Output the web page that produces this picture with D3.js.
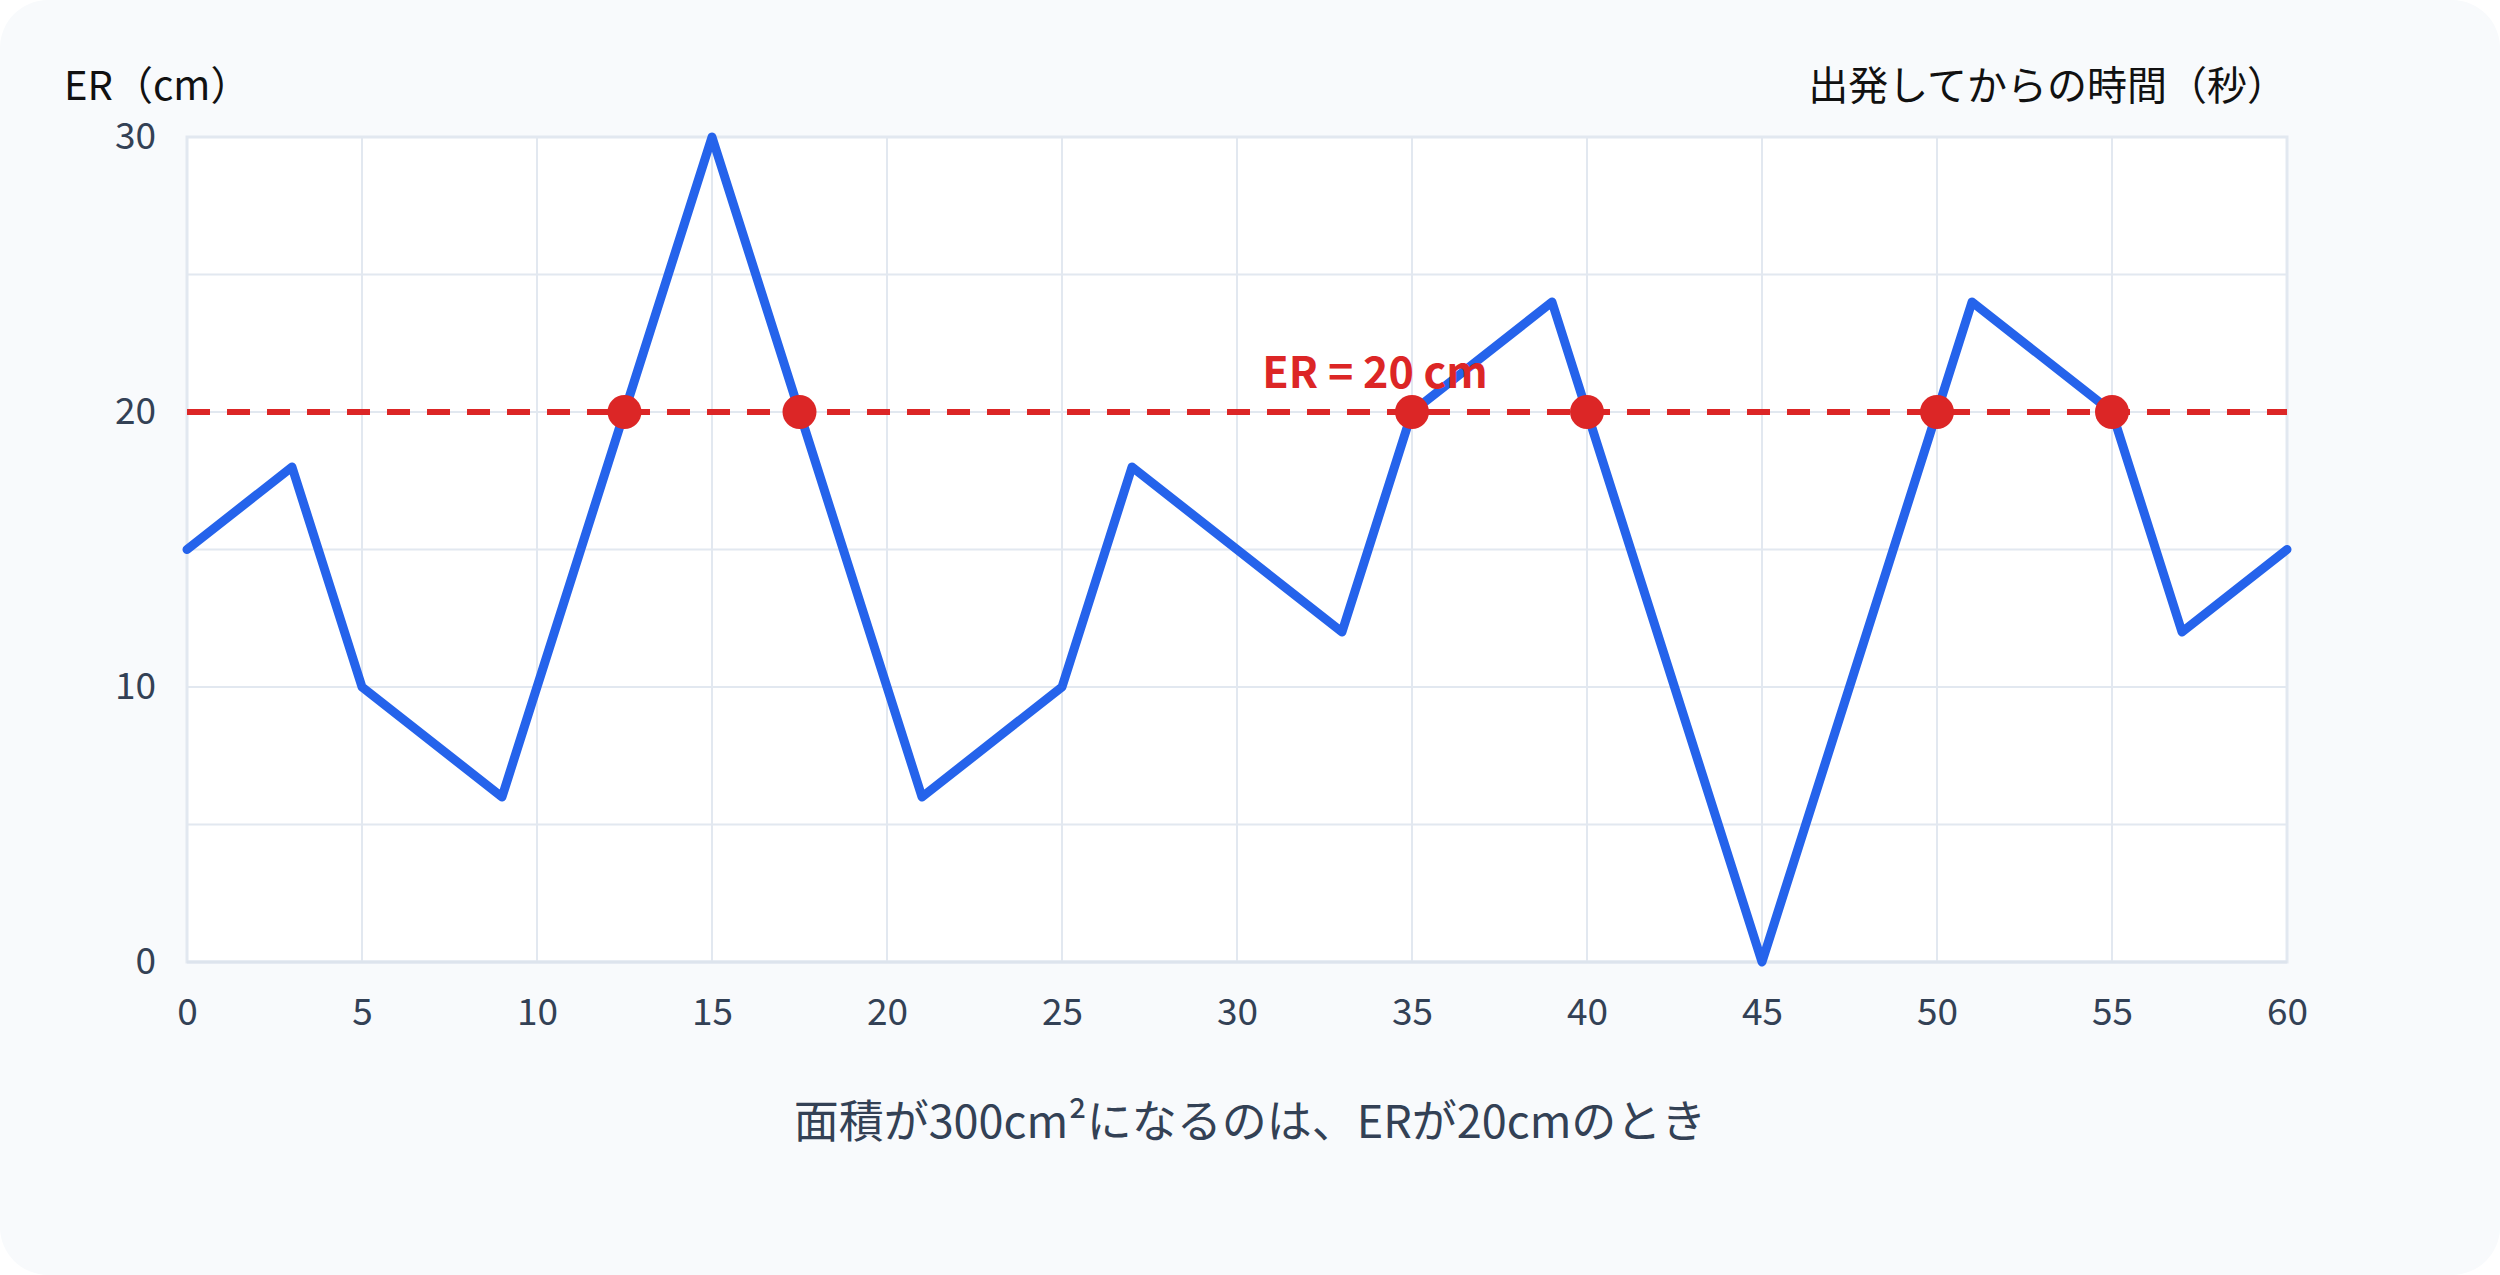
<!DOCTYPE html>
<html>
<head>
<meta charset="utf-8">
<script src="https://cdn.jsdelivr.net/npm/d3@7"></script>
<style>
  html, body { margin: 0; padding: 0; background: #ffffff; }
  svg { display: block; font-family: "Noto Sans CJK JP", "Noto Sans", sans-serif; }
</style>
</head>
<body>
<div id="viz"></div>
<script>
// ER の長さ（cm）と経過時間（秒）
const times = [0, 3, 5, 9, 15, 21, 25, 27, 33, 35, 39, 45, 51, 55, 57, 60];
const erValues = [15, 18, 10, 6, 30, 6, 10, 18, 12, 20, 24, 0, 24, 20, 12, 15];

// 面積が300cm²になる時刻（ER = 20cm）
const hitTimes = [12.5, 17.5, 35, 40, 50, 55];
const targetER = 20;

const xTicks = [0, 5, 10, 15, 20, 25, 30, 35, 40, 45, 50, 55, 60];
const yTicks = [0, 10, 20, 30];
const yGrid = [0, 5, 10, 15, 20, 25, 30];

const yTitle = "ER（cm）";
const xTitle = "出発してからの時間（秒）";
const refLabel = "ER = 20 cm";
const caption = "面積が300cm²になるのは、ERが20cmのとき";

const W = 2500, H = 1275;
const margin = { top: 137, right: 213, bottom: 313, left: 187 },
  width = W - margin.left - margin.right,
  height = H - margin.top - margin.bottom;

const svg = d3.select("#viz")
  .append("svg")
  .attr("width", W)
  .attr("height", H);

// card background
svg.append("rect")
  .attr("width", W)
  .attr("height", H)
  .attr("rx", 48)
  .attr("fill", "#f8fafc");

const x = d3.scaleLinear().domain([0, 60]).range([0, width]);
const y = d3.scaleLinear().domain([0, 30]).range([height, 0]);

const g = svg.append("g")
  .attr("transform", `translate(${margin.left},${margin.top})`);

// plot area
g.append("rect")
  .attr("width", width)
  .attr("height", height)
  .attr("fill", "#ffffff");

// grid
g.selectAll("line.vgrid")
  .data(xTicks).enter()
  .append("line")
  .attr("class", "vgrid")
  .attr("x1", d => x(d)).attr("x2", d => x(d))
  .attr("y1", 0).attr("y2", height)
  .attr("stroke", "#e2e8f0")
  .attr("stroke-width", 2);

g.selectAll("line.hgrid")
  .data(yGrid).enter()
  .append("line")
  .attr("class", "hgrid")
  .attr("x1", 0).attr("x2", width)
  .attr("y1", d => y(d)).attr("y2", d => y(d))
  .attr("stroke", "#e2e8f0")
  .attr("stroke-width", 2);

// border
g.append("rect")
  .attr("width", width)
  .attr("height", height)
  .attr("fill", "none")
  .attr("stroke", "#e2e8f0")
  .attr("stroke-width", 3);

// axes (labels only)
const xAxis = g.append("g")
  .attr("transform", `translate(0,${height})`)
  .call(d3.axisBottom(x).tickValues(xTicks).tickSize(0).tickPadding(37).tickFormat(d3.format("d")));
const yAxis = g.append("g")
  .call(d3.axisLeft(y).tickValues(yTicks).tickSize(0).tickPadding(31).tickFormat(d3.format("d")));

[xAxis, yAxis].forEach(a => {
  a.select(".domain").remove();
  a.selectAll("text")
    .attr("fill", "#334155")
    .style("font-size", "37px")
    .style("font-family", "'Noto Sans CJK JP', 'Noto Sans', sans-serif");
});
g.append("line")
  .attr("x1", 0).attr("x2", width)
  .attr("y1", height).attr("y2", height)
  .attr("stroke", "#dde4ed")
  .attr("stroke-width", 3);

// reference line ER = 20
g.append("line")
  .attr("x1", 0).attr("x2", width)
  .attr("y1", y(targetER)).attr("y2", y(targetER))
  .attr("stroke", "#dc2626")
  .attr("stroke-width", 6)
  .attr("stroke-dasharray", "23,17");

// ER line
const line = d3.line()
  .x((d, i) => x(times[i]))
  .y(d => y(d));

g.append("path")
  .datum(erValues)
  .attr("d", line)
  .attr("fill", "none")
  .attr("stroke", "#2563eb")
  .attr("stroke-width", 9)
  .attr("stroke-linejoin", "round")
  .attr("stroke-linecap", "round");

// hit points
g.selectAll("circle.pts")
  .data(hitTimes).enter()
  .append("circle")
  .attr("class", "pts")
  .attr("cx", d => x(d))
  .attr("cy", y(targetER))
  .attr("r", 17)
  .attr("fill", "#dc2626");

// label for reference line
g.append("text")
  .attr("x", x(34) - 2)
  .attr("y", y(targetER) - 24)
  .attr("text-anchor", "middle")
  .attr("fill", "#dc2626")
  .style("font-size", "43px")
  .style("font-weight", "700")
  .text(refLabel);

// titles
svg.append("text")
  .attr("x", 64)
  .attr("y", 100)
  .attr("fill", "#111111")
  .style("font-size", "40px")
  .text(yTitle);

svg.append("text")
  .attr("x", margin.left + width)
  .attr("y", 100)
  .attr("text-anchor", "end")
  .attr("fill", "#111111")
  .style("font-size", "40px")
  .text(xTitle);

svg.append("text")
  .attr("x", W / 2)
  .attr("y", 1138)
  .attr("text-anchor", "middle")
  .attr("fill", "#334155")
  .style("font-size", "45px")
  .text(caption);
</script>
</body>
</html>
